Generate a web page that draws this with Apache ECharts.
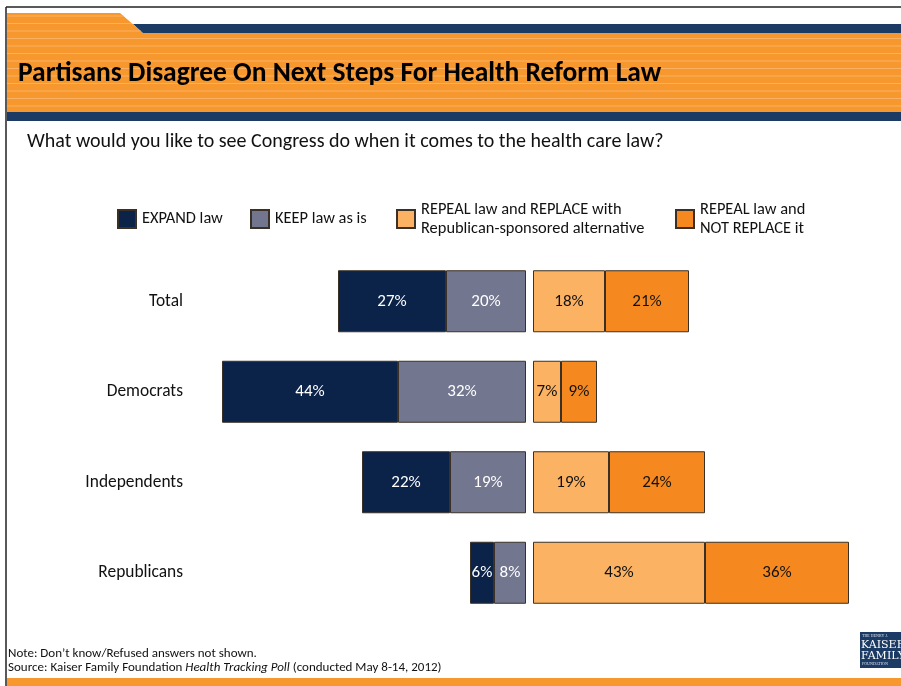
<!DOCTYPE html>
<html>
<head>
<meta charset="utf-8">
<script src="https://cdn.jsdelivr.net/npm/echarts@6/dist/echarts.min.js"></script>
<style>html,body{margin:0;padding:0;background:#fff}#c{width:901px;height:686px}</style>
</head>
<body>
<div id="c"></div>
<script>
var categories = ['Total', 'Democrats', 'Independents', 'Republicans'];
var expandLaw = [27, 44, 22, 6];
var keepLaw = [20, 32, 19, 8];
var repealReplace = [18, 7, 19, 43];
var repealNotReplace = [21, 9, 24, 36];
var seriesNames = ['EXPAND law', 'KEEP law as is', 'REPEAL law and REPLACE with Republican-sponsored alternative', 'REPEAL law and NOT REPLACE it'];
var legendLabels = ['EXPAND law', 'KEEP law as is', 'REPEAL law and REPLACE with\nRepublican-sponsored alternative', 'REPEAL law and\nNOT REPLACE it'];

var FONT = 'Carlito, Lato, "Open Sans", sans-serif';
var NAVY = '#0B2249', GRAY = '#72768F', LORANGE = '#FBB262', ORANGE = '#F5891F';
var HEAD_ORANGE = '#F7982E', HEAD_NAVY = '#1B3A64';

var chart = echarts.init(document.getElementById('c'), null, {renderer: 'canvas'});

function barSeries(name, data, color, axisIdx, stack, labelColor) {
  return {
    name: name, type: 'bar', stack: stack, data: data,
    xAxisIndex: axisIdx, yAxisIndex: axisIdx,
    barWidth: 62,
    itemStyle: {color: color, borderColor: '#3a3026', borderWidth: 1},
    label: {show: true, position: 'inside', formatter: '{c}%', color: labelColor, fontSize: 17, fontFamily: FONT},
    emphasis: {disabled: true},
    animation: false
  };
}

var graphics = [];
graphics.push({type: 'polygon', shape: {points: [[7,13],[120,13],[143,33],[901,33],[901,112],[7,112]]}, style: {fill: HEAD_ORANGE}});
graphics.push({type: 'polygon', shape: {points: [[133,24],[901,24],[901,33],[143,33]]}, style: {fill: HEAD_NAVY}});
var stripeYs = [16, 23.5, 31, 38.5, 46, 53.5, 61, 68.5, 76, 83.5, 91, 98.5, 106];
stripeYs.forEach(function (y) {
  var xe = y < 33 ? 120 + (y - 13) * 23 / 20 : 901;
  graphics.push({type: 'line', shape: {x1: 7, y1: y, x2: xe, y2: y}, style: {stroke: '#FAB163', lineWidth: 1}, silent: true});
});
graphics.push({type: 'rect', shape: {x: 7, y: 112, width: 894, height: 9}, style: {fill: HEAD_NAVY}});
graphics.push({type: 'line', shape: {x1: 6, y1: 7, x2: 901, y2: 7}, style: {stroke: '#222', lineWidth: 1.5}});
graphics.push({type: 'line', shape: {x1: 6, y1: 7, x2: 6, y2: 686}, style: {stroke: '#222', lineWidth: 1.5}});
graphics.push({type: 'text', left: 18, top: 60, style: {text: 'Partisans Disagree On Next Steps For Health Reform Law', font: 'bold 27.5px ' + FONT, fill: '#000'}});
graphics.push({type: 'text', left: 27, top: 132, style: {text: 'What would you like to see Congress do when it comes to the health care law?', font: '20px ' + FONT, fill: '#111'}});
graphics.push({type: 'text', left: 8, top: 647, style: {text: 'Note: Don\u2019t know/Refused answers not shown.', font: '13px ' + FONT, fill: '#111'}});
graphics.push({type: 'text', left: 8, top: 661, style: {
  text: '{n|Source: Kaiser Family Foundation }{i|Health Tracking Poll}{n| (conducted May 8-14, 2012)}',
  rich: {n: {font: '13px ' + FONT, fill: '#111'}, i: {font: 'italic 13px ' + FONT, fill: '#111'}}
}});
graphics.push({type: 'rect', shape: {x: 7, y: 678, width: 894, height: 8}, style: {fill: HEAD_ORANGE}});
graphics.push({type: 'rect', shape: {x: 860, y: 632, width: 41, height: 36}, style: {fill: HEAD_NAVY}});
graphics.push({type: 'text', left: 862, top: 634, style: {text: 'THE HENRY J.', font: '4px serif', fill: '#dfe4ee'}});
graphics.push({type: 'text', left: 861, top: 640, style: {text: 'KAISER', font: '11px "DejaVu Serif", serif', fill: '#fff'}});
graphics.push({type: 'text', left: 861, top: 651, style: {text: 'FAMILY', font: '11px "DejaVu Serif", serif', fill: '#fff'}});
graphics.push({type: 'text', left: 862, top: 662, style: {text: 'FOUNDATION', font: '4px serif', fill: '#dfe4ee'}});

function legendAt(i, left, top) {
  return {
    data: [{name: seriesNames[i], icon: 'rect'}], left: left, top: top, orient: 'horizontal',
    itemWidth: 18, itemHeight: 18, itemGap: 0, padding: 0,
    selectedMode: false,
    formatter: function () { return legendLabels[i]; },
    textStyle: {fontSize: 16.4, fontFamily: FONT, color: '#111', lineHeight: 19, padding: [0, 0, 0, 1]}
  };
}

var option = {
  backgroundColor: '#fff',
  animation: false,
  graphic: graphics,
  legend: [
    legendAt(0, 117, 209),
    legendAt(1, 250, 209),
    legendAt(2, 396, 200),
    legendAt(3, 675, 200)
  ],
  grid: [
    {left: 206, width: 320, top: 256, height: 362, containLabel: false},
    {left: 533, width: 320, top: 256, height: 362, containLabel: false}
  ],
  xAxis: [
    {gridIndex: 0, type: 'value', min: 0, max: 80, inverse: true, show: false},
    {gridIndex: 1, type: 'value', min: 0, max: 80, show: false}
  ],
  yAxis: [
    {gridIndex: 0, type: 'category', data: categories, inverse: true,
     axisLine: {show: false, onZero: false}, axisTick: {show: false}, splitLine: {show: false},
     axisLabel: {margin: 23, fontSize: 17.4, fontFamily: FONT, color: '#111', padding: [0, 0, 3, 0]}},
    {gridIndex: 1, type: 'category', data: categories, inverse: true, show: false}
  ],
  series: [
    barSeries(seriesNames[1], keepLaw, GRAY, 0, 'left', '#fff'),
    barSeries(seriesNames[0], expandLaw, NAVY, 0, 'left', '#fff'),
    barSeries(seriesNames[2], repealReplace, LORANGE, 1, 'right', '#111'),
    barSeries(seriesNames[3], repealNotReplace, ORANGE, 1, 'right', '#111')
  ]
};
chart.setOption(option);
</script>
</body>
</html>
